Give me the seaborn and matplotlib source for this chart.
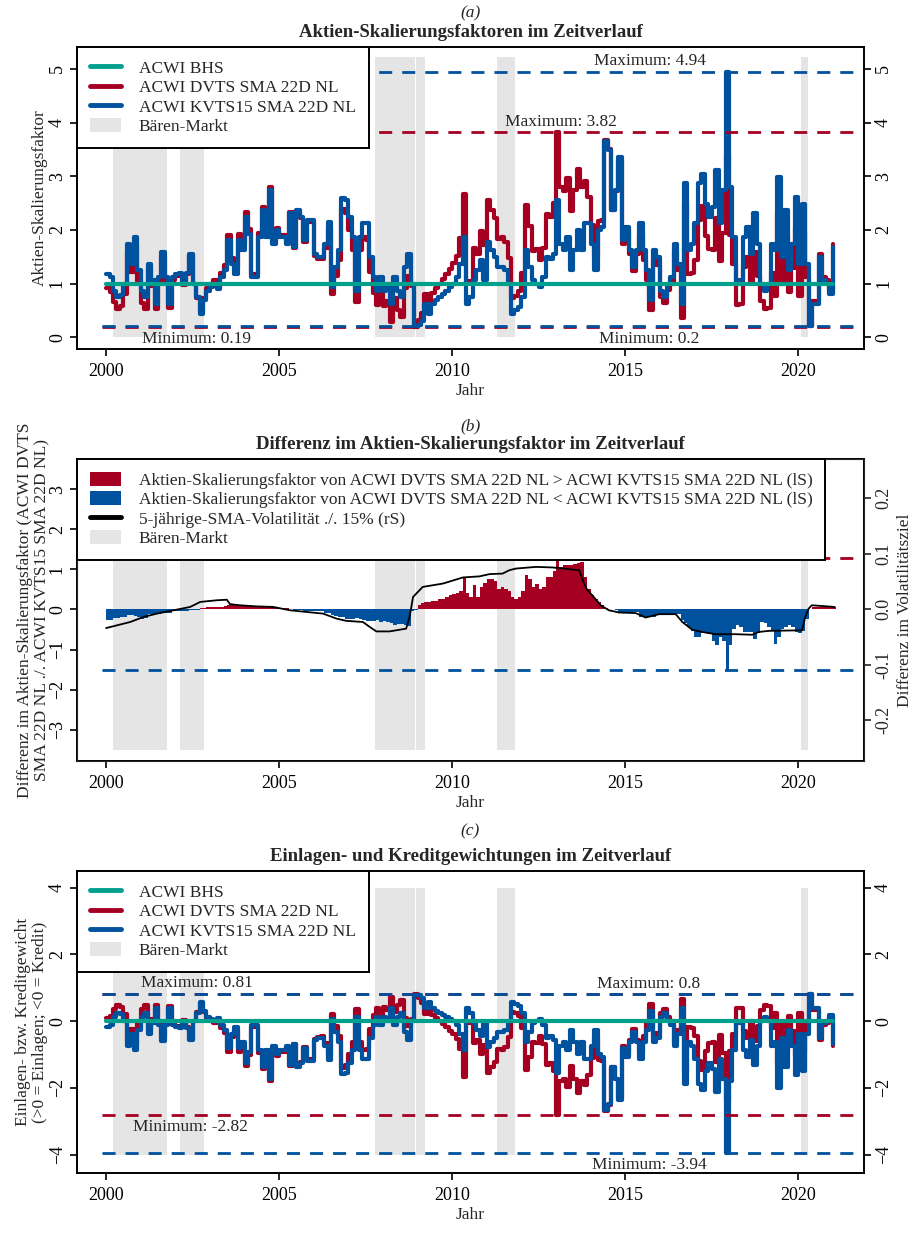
import numpy as np
import matplotlib
matplotlib.use('Agg')
from matplotlib import pyplot as plt
from matplotlib.patches import Patch
from matplotlib.lines import Line2D
import seaborn as sns

sns.set_style('ticks')
plt.rcParams['font.family'] = ['Liberation Serif', 'DejaVu Serif']

# time grid (years, 0.1 steps)
years = np.round(np.arange(2000.0, 2021.05, 0.1), 1)

# equity scaling factor ACWI KVTS15 SMA 22D NL
kvts15 = [
    1.18, 1.12, 0.87, 0.75, 0.78, 1.0, 1.74, 1.37, 1.87, 1.25,
    0.87, 0.75, 1.37, 1.06, 0.62, 1.12, 1.59, 1.12, 0.62, 1.12,
    1.18, 1.2, 1.0, 1.2, 1.56, 1.0, 0.75, 0.44, 0.69, 0.87,
    0.93, 1.0, 0.9, 1.12, 1.25, 1.81, 1.37, 1.18, 1.81, 1.62,
    2.24, 1.93, 1.12, 1.12, 1.87, 2.37, 1.87, 2.74, 1.74, 1.99,
    1.87, 1.87, 1.74, 2.31, 1.68, 2.37, 2.24, 1.81, 2.18, 2.18,
    1.56, 1.5, 1.5, 1.74, 2.15, 0.93, 1.31, 1.62, 2.59, 2.55,
    2.24, 1.87, 0.87, 1.87, 2.12, 2.12, 1.5, 1.12, 0.87, 1.12,
    0.87, 1.0, 0.62, 1.12, 0.87, 0.75, 1.31, 1.56, 1.0, 0.21,
    0.22, 0.31, 0.62, 0.44, 0.62, 0.69, 0.75, 0.81, 0.87, 0.93,
    1.0, 1.12, 1.37, 1.87, 0.62, 0.75, 1.06, 1.25, 1.43, 1.06,
    1.78, 1.62, 1.5, 1.31, 1.31, 1.25, 1.0, 0.44, 0.5, 0.56,
    0.75, 1.62, 1.31, 1.06, 1.0, 0.93, 1.12, 1.5, 1.45, 1.55,
    2.55, 1.74, 1.62, 1.87, 1.25, 1.62, 1.99, 1.62, 2.12, 2.12,
    1.74, 1.25, 1.99, 2.06, 3.65, 3.49, 2.37, 2.74, 3.36, 1.81,
    2.06, 1.62, 1.31, 1.62, 2.12, 1.62, 1.25, 0.69, 1.62, 1.5,
    0.87, 0.75, 1.0, 1.12, 1.74, 1.37, 0.62, 2.87, 1.62, 1.74,
    2.12, 2.87, 3.05, 2.49, 2.24, 2.43, 3.12, 2.12, 2.74, 4.94,
    2.8, 1.87, 1.0, 1.06, 1.87, 2.06, 1.56, 2.31, 1.74, 1.0,
    0.87, 1.0, 1.74, 1.62, 2.99, 1.5, 2.37, 1.25, 1.74, 2.62,
    1.37, 2.49, 1.37, 0.2, 0.62, 0.62, 1.5, 1.06, 1.0, 0.81,
    1.68,
]

# difference DVTS - KVTS15 (panel b bars)
diff_dvts_kvts = [
    -0.27, -0.27, -0.22, -0.22, -0.2, -0.2, -0.15, -0.15, -0.16, -0.2,
    -0.23, -0.22, -0.12, -0.11, -0.1, -0.11, -0.1, -0.1, -0.08, -0.05,
    -0.04, -0.04, -0.03, -0.03, -0.02, -0.01, -0.01, 0.03, 0.04, 0.05,
    0.06, 0.06, 0.06, 0.07, 0.09, 0.1, 0.11, 0.12, 0.12, 0.11,
    0.1, 0.08, 0.06, 0.06, 0.07, 0.06, 0.05, 0.06, 0.05, 0.05,
    0.04, 0.04, 0.03, 0.02, -0.01, -0.02, -0.02, -0.03, -0.03, -0.04,
    -0.04, -0.04, -0.05, -0.08, -0.1, -0.13, -0.16, -0.18, -0.2, -0.24,
    -0.25, -0.24, -0.22, -0.24, -0.26, -0.3, -0.28, -0.3, -0.27, -0.31,
    -0.29, -0.32, -0.33, -0.38, -0.36, -0.37, -0.4, -0.42, -0.05, -0.02,
    0.1, 0.15, 0.18, 0.18, 0.2, 0.22, 0.25, 0.27, 0.3, 0.35,
    0.38, 0.4, 0.47, 0.8, 0.4, 0.3, 0.6, 0.3, 0.55, 0.65,
    0.77, 0.75, 0.72, 0.52, 0.55, 0.52, 0.47, 0.3, 0.27, 0.3,
    0.45, 0.85, 0.77, 0.55, 0.64, 0.5, 0.55, 0.8, 0.8, 0.95,
    1.27, 1.06, 1.1, 1.1, 1.1, 1.12, 1.15, 1.18, 0.8, 0.5,
    0.35, 0.25, 0.18, 0.12, 0.03, 0.01, 0.0, -0.02, -0.07, -0.07,
    -0.07, -0.07, -0.07, -0.07, -0.19, -0.19, -0.19, -0.19, -0.19, -0.15,
    -0.12, -0.12, -0.12, -0.12, -0.12, -0.12, -0.27, -0.35, -0.44, -0.55,
    -0.69, -0.69, -0.6, -0.6, -0.6, -0.8, -0.9, -0.7, -0.8, -1.52,
    -0.9, -0.5, -0.4, -0.45, -0.57, -0.57, -0.57, -0.73, -0.6, -0.32,
    -0.35, -0.45, -0.55, -0.86, -0.7, -0.5, -0.45, -0.4, -0.45, -0.57,
    -0.6, -0.55, -0.25, 0.0, 0.06, 0.06, 0.06, 0.06, 0.06, 0.06,
    0.06,
]

# 5-year SMA volatility minus 15% (right scale of panel b)
vol_years = [2000.0, 2000.32, 2000.7, 2001.08, 2001.47, 2001.95, 2002.43, 2002.72,
             2003.2, 2003.49, 2003.58, 2003.87, 2004.35, 2004.83, 2005.31, 2005.79,
             2006.27, 2006.66, 2006.94, 2007.42, 2007.62, 2007.81, 2008.19, 2008.67,
             2008.77, 2008.87, 2009.15, 2009.73, 2010.31, 2010.79, 2011.08, 2011.46,
             2011.65, 2011.84, 2012.42, 2012.9, 2013.67, 2013.81, 2013.91, 2014.05,
             2014.29, 2014.53, 2014.82, 2015.3, 2015.59, 2015.98, 2016.46, 2016.65,
             2016.94, 2017.22, 2017.61, 2018.18, 2018.67, 2018.86, 2019.15, 2020.11,
             2020.2, 2020.3, 2020.39, 2021.05]
vol_diff = [-0.034, -0.029, -0.023, -0.014, -0.008, -0.002, 0.004, 0.013,
            0.016, 0.017, 0.009, 0.007, 0.005, 0.004, -0.002, -0.005,
            -0.008, -0.017, -0.021, -0.023, -0.032, -0.04, -0.04, -0.035,
            -0.014, 0.022, 0.04, 0.046, 0.057, 0.059, 0.063, 0.064,
            0.070, 0.073, 0.076, 0.075, 0.070, 0.046, 0.034, 0.025,
            0.007, -0.002, -0.006, -0.007, -0.015, -0.009, -0.009, -0.023,
            -0.037, -0.041, -0.045, -0.045, -0.046, -0.041, -0.039, -0.038,
            -0.014, 0.001, 0.007, 0.004]

bear_start = [2000.19, 2002.15, 2007.77, 2008.96, 2011.31, 2020.07]
bear_end = [2001.76, 2002.82, 2008.93, 2009.22, 2011.82, 2020.29]

kvts15 = np.array(kvts15)
diff_dvts_kvts = np.array(diff_dvts_kvts)
dvts = np.round(kvts15 + diff_dvts_kvts, 2)
bhs = np.ones_like(kvts15)

c_bhs = '#00a08c'
c_dvts = '#a50021'
c_kvts = '#00519e'
c_bear = '#e5e5e5'
dash = (0, (4.7, 3.6))

W, H = 924, 1235
fig = plt.figure(figsize=(9.24, 12.35), dpi=100)


def box(top, bottom, left=77, right=864):
    return [left / W, 1 - bottom / H, (right - left) / W, (bottom - top) / H]


def style_axis(ax, ylim, yticks, right_labels=True):
    ax.set_xlim(1999.16, 2021.9)
    ax.set_ylim(*ylim)
    ax.set_xticks([2000, 2005, 2010, 2015, 2020])
    ax.set_yticks(yticks)
    for s in ax.spines.values():
        s.set_visible(True)
        s.set_linewidth(1.4)
        s.set_color('black')
    ax.tick_params(axis='both', direction='out', length=5, width=1.2,
                   labelsize=13, colors='black')
    ax.tick_params(axis='x', pad=5, top=False)
    ax.tick_params(axis='y', pad=3, labelrotation=90)
    if right_labels:
        ax.tick_params(axis='y', right=True, labelright=True)
    for t in ax.yaxis.get_major_ticks():
        t.label1.set_va('center')
        t.label2.set_va('center')
    ax.set_xlabel('Jahr', fontsize=12.5)
    ax.xaxis.set_label_coords(0.5, -0.113)


def bears(ax, lo, hi):
    for s, e in zip(bear_start, bear_end):
        ax.fill_between([s, e], lo, hi, color=c_bear, lw=0, zorder=0)


def titles(ax, tag, title, tag_y=1.112):
    ax.text(0.5, tag_y, tag, transform=ax.transAxes, ha='center', va='center',
            fontsize=12.5, style='italic')
    ax.text(0.5, 1.049, title, transform=ax.transAxes, ha='center', va='center',
            fontsize=13.5, fontweight='bold')


def hline(ax, y, color):
    ax.hlines(y, 1999.88, 2021.68, colors=color, linestyles=dash, lw=2, zorder=5)


def note(ax, txt, x, y, above):
    ax.annotate(txt, (x, y), xytext=(0, 2 if above else -3), textcoords='offset points',
                ha='center', va='bottom' if above else 'top', fontsize=12.5, zorder=6)


def series(ax, b, r, k):
    sns.lineplot(x=years, y=r, ax=ax, color=c_dvts, lw=3, drawstyle='steps-post',
                 errorbar=None, zorder=2)
    sns.lineplot(x=years, y=k, ax=ax, color=c_kvts, lw=3, drawstyle='steps-post',
                 errorbar=None, zorder=3)
    sns.lineplot(x=years, y=b, ax=ax, color=c_bhs, lw=3, errorbar=None, zorder=4)


leg_kw = dict(loc='upper left', bbox_to_anchor=(0, 1), borderaxespad=0, fancybox=False,
              edgecolor='black', framealpha=1, fontsize=12.5, handlelength=1.8,
              handletextpad=1.0, labelspacing=0.14, borderpad=0.75, handleheight=0.85)


def line_legend(ax):
    handles = [Line2D([], [], color=c_bhs, lw=3.5),
               Line2D([], [], color=c_dvts, lw=3.5),
               Line2D([], [], color=c_kvts, lw=3.5),
               Patch(facecolor=c_bear, edgecolor='none')]
    labels = ['ACWI BHS', 'ACWI DVTS SMA 22D NL', 'ACWI KVTS15 SMA 22D NL', 'Bären-Markt']
    leg = ax.legend(handles, labels, **leg_kw)
    leg.get_frame().set_linewidth(1.4)
    leg.set_zorder(10)


# (a) equity scaling factors
ax_a = fig.add_axes(box(47, 349))
bears(ax_a, 0, 5.23)
series(ax_a, bhs, dvts, kvts15)
hline(ax_a, dvts.max(), c_dvts)
hline(ax_a, kvts15.max(), c_kvts)
hline(ax_a, dvts.min(), c_dvts)
hline(ax_a, kvts15.min(), c_kvts)
note(ax_a, f'Maximum: {dvts.max():g}', 2013.14, dvts.max(), True)
note(ax_a, f'Maximum: {kvts15.max():g}', 2015.73, kvts15.max(), True)
note(ax_a, f'Minimum: {dvts.min():g}', 2002.62, dvts.min(), False)
note(ax_a, f'Minimum: {kvts15.min():g}', 2015.68, kvts15.min(), False)
style_axis(ax_a, (-0.22, 5.41), [0, 1, 2, 3, 4, 5])
ax_a.set_ylabel('Aktien-Skalierungsfaktor', fontsize=12.5)
ax_a.yaxis.set_label_coords(-0.037, 0.5)
titles(ax_a, '(a)', 'Aktien-Skalierungsfaktoren im Zeitverlauf')
line_legend(ax_a)

# (b) difference in equity scaling factor
ax_b = fig.add_axes(box(459, 761))
bears(ax_b, -3.5, 3.5)
bar_cols = [c_dvts if d > 0 else c_kvts for d in diff_dvts_kvts]
ax_b.bar(years, diff_dvts_kvts, width=0.1, align='edge', color=bar_cols, lw=0, zorder=2)
hline(ax_b, diff_dvts_kvts.max(), c_dvts)
hline(ax_b, diff_dvts_kvts.min(), c_kvts)
style_axis(ax_b, (-3.78, 3.75), [-3, -2, -1, 0, 1, 2, 3], right_labels=False)
ax_b.set_ylabel('Differenz im Aktien-Skalierungsfaktor (ACWI DVTS\n'
                'SMA 22D NL ./. ACWI KVTS15 SMA 22D NL)', fontsize=12.5, linespacing=1.1)
ax_b.yaxis.set_label_coords(-0.034, 0.5)
titles(ax_b, '(b)', 'Differenz im Aktien-Skalierungsfaktor im Zeitverlauf', 1.108)

ax_b2 = ax_b.twinx()
sns.lineplot(x=vol_years, y=vol_diff, ax=ax_b2, color='black', lw=1.3, errorbar=None)
ax_b2.set_ylim(-0.273, 0.27)
ax_b2.set_yticks([-0.2, -0.1, 0.0, 0.1, 0.2])
ax_b2.set_yticklabels(['-0.2', '-0.1', '0.0', '0.1', '0.2'])
ax_b2.tick_params(axis='y', direction='out', length=5, width=1.2, labelsize=13,
                  pad=3, labelrotation=90)
for t in ax_b2.yaxis.get_major_ticks():
    t.label2.set_va('center')
ax_b2.set_ylabel('Differenz im Volatilitätsziel', fontsize=12.5)
ax_b2.yaxis.set_label_coords(1.042, 0.5)
ax_b2.set_xlim(1999.16, 2021.9)
handles_b = [Patch(facecolor=c_dvts, edgecolor='none'),
             Patch(facecolor=c_kvts, edgecolor='none'),
             Line2D([], [], color='black', lw=3.5),
             Patch(facecolor=c_bear, edgecolor='none')]
labels_b = ['Aktien-Skalierungsfaktor von ACWI DVTS SMA 22D NL > ACWI KVTS15 SMA 22D NL (lS)',
            'Aktien-Skalierungsfaktor von ACWI DVTS SMA 22D NL < ACWI KVTS15 SMA 22D NL (lS)',
            '5-jährige-SMA-Volatilität ./. 15% (rS)',
            'Bären-Markt']
leg_b = ax_b2.legend(handles_b, labels_b, **leg_kw)
leg_b.get_frame().set_linewidth(1.4)

# (c) deposit / credit weights
ax_c = fig.add_axes(box(871, 1173))
bears(ax_c, -4, 4)
w_bhs = 1 - bhs
w_dvts = np.round(1 - dvts, 2)
w_kvts = np.round(1 - kvts15, 2)
series(ax_c, w_bhs, w_dvts, w_kvts)
hline(ax_c, w_dvts.max(), c_dvts)
hline(ax_c, w_kvts.max(), c_kvts)
hline(ax_c, w_dvts.min(), c_dvts)
hline(ax_c, w_kvts.min(), c_kvts)
note(ax_c, f'Maximum: {w_dvts.max():g}', 2002.62, w_dvts.max(), True)
note(ax_c, f'Maximum: {w_kvts.max():g}', 2015.68, w_kvts.max(), True)
note(ax_c, f'Minimum: {w_dvts.min():g}', 2002.45, w_dvts.min(), False)
note(ax_c, f'Minimum: {w_kvts.min():g}', 2015.7, w_kvts.min(), False)
style_axis(ax_c, (-4.55, 4.5), [-4, -2, 0, 2, 4])
ax_c.set_ylabel('Einlagen- bzw. Kreditgewicht\n(>0 = Einlagen; <0 = Kredit)',
                fontsize=12.5, linespacing=1.1)
ax_c.yaxis.set_label_coords(-0.037, 0.5)
titles(ax_c, '(c)', 'Einlagen- und Kreditgewichtungen im Zeitverlauf', 1.13)
line_legend(ax_c)

fig.savefig('out.png', dpi=100)
